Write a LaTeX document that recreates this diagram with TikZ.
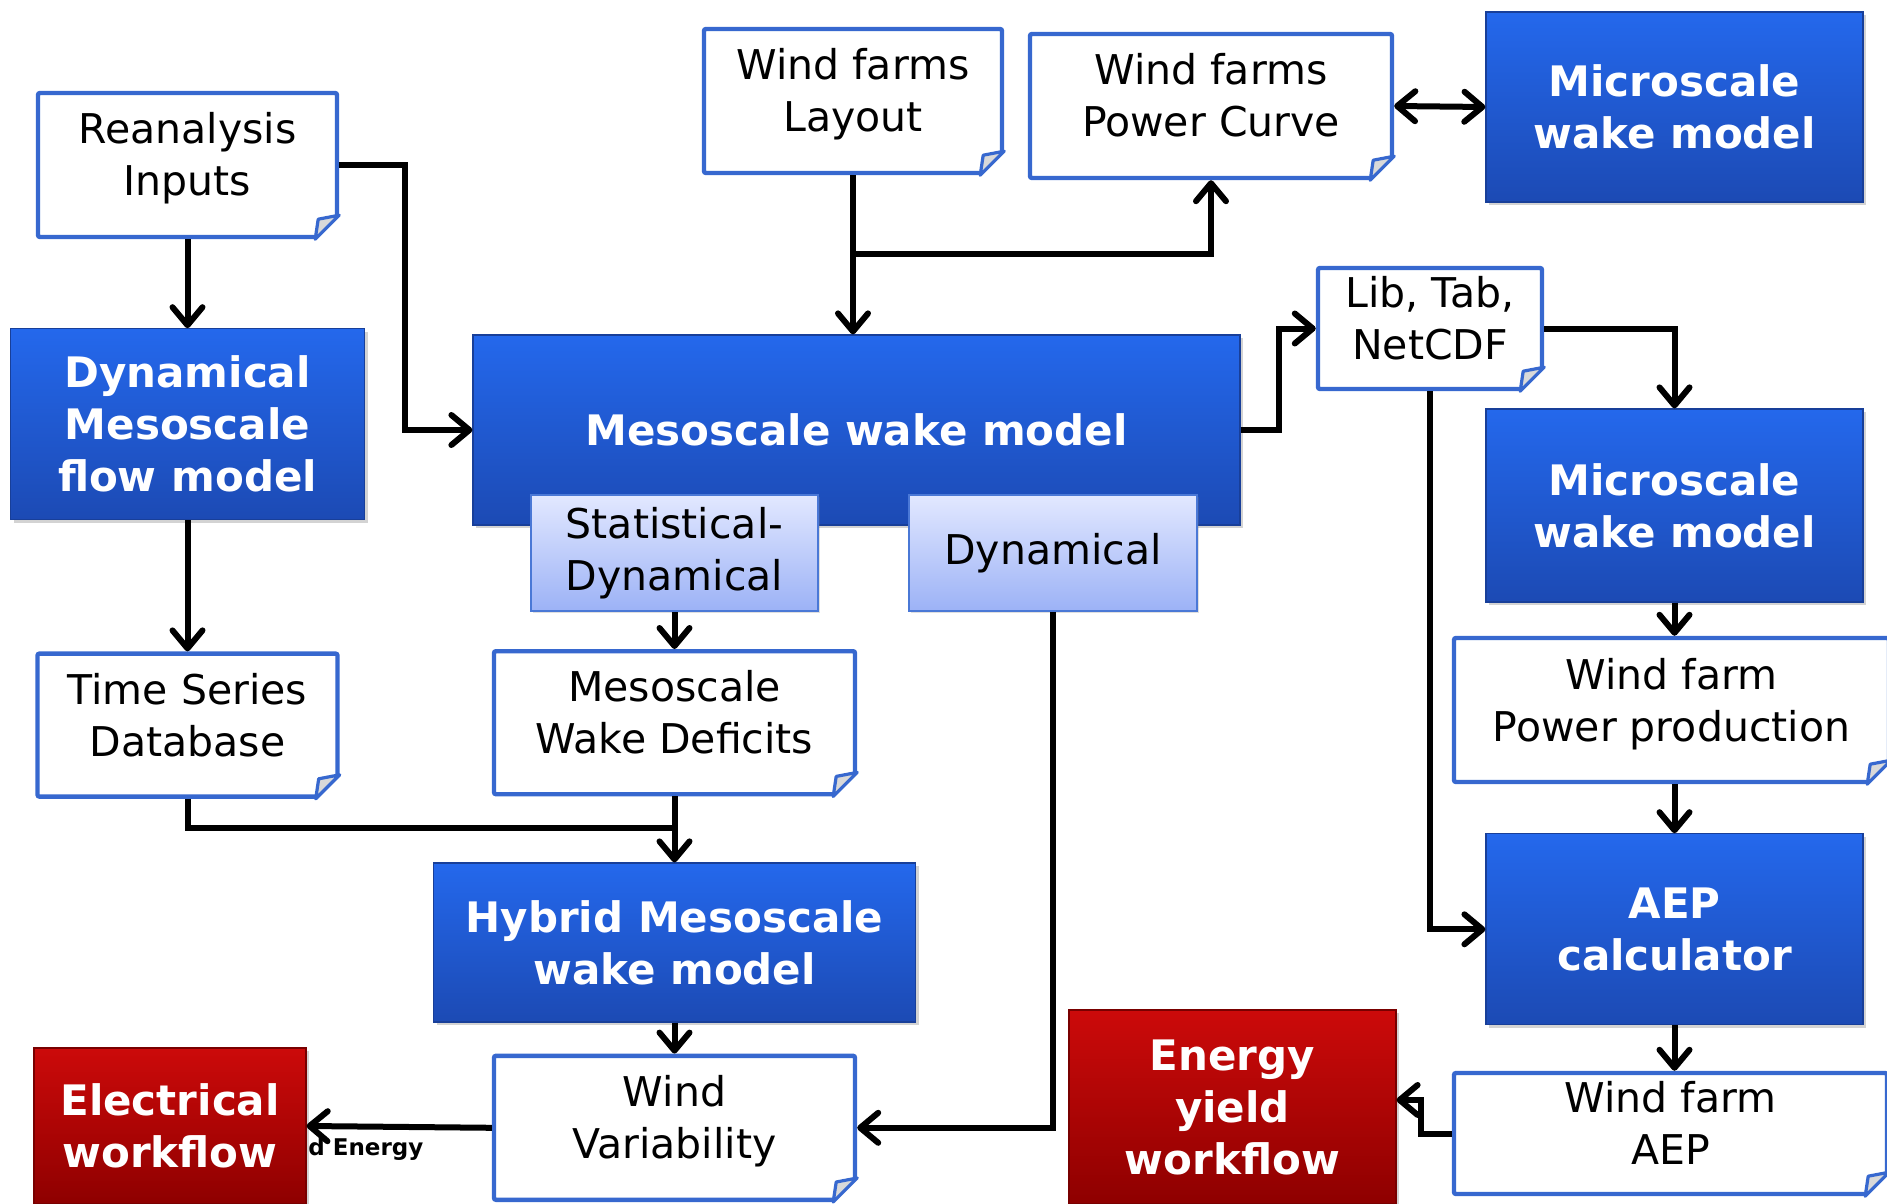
\documentclass[tikz,border=0pt]{standalone}
\usepackage{fontspec}
\setmainfont{DejaVu Sans}
\usetikzlibrary{arrows.meta,positioning,shadows}

\definecolor{docblue}{HTML}{3768CF}
\definecolor{modeltop}{HTML}{2468EC}
\definecolor{modelbot}{HTML}{1C4AB4}
\definecolor{redtop}{HTML}{CC0A0A}
\definecolor{redbot}{HTML}{8E0000}
\definecolor{subtop}{HTML}{E2E8FF}
\definecolor{subbot}{HTML}{9CB2F6}
\definecolor{subedge}{HTML}{4A78D6}

\newcommand{\docfont}{\fontsize{20.5}{26}\selectfont}
\newcommand{\modelfont}{\fontsize{21}{26}\selectfont\bfseries}

\begin{document}
\begin{tikzpicture}
  [
    x=0.5pt, y=-0.5pt,
    >={Straight Barb[length=9pt,width=15pt,round]},
    doc/.style={draw=docblue,line width=2.2pt,fill=white,align=center,font=\docfont,inner sep=0pt,rounded corners=1pt,
      text height=37pt,text depth=6pt},
    model/.style={top color=modeltop,bottom color=modelbot,draw=modelbot!85!black,line width=0.6pt,text=white,font=\modelfont,align=center,inner sep=0pt,
      drop shadow={opacity=0.35,shadow xshift=1.5pt,shadow yshift=-1.5pt}},
    workflow/.style={model,top color=redtop,bottom color=redbot,draw=redbot!85!black},
    variant/.style={top color=subtop,bottom color=subbot,draw=subedge,line width=1pt,font=\docfont,align=center,inner sep=0pt,
      drop shadow={opacity=0.25,shadow xshift=1pt,shadow yshift=-1pt}},
    flow/.style={line width=3pt,->,line join=miter}
  ]
  \useasboundingbox (0,0) rectangle (1887,1204);

  % left column
  \node[doc,minimum width=149.5pt,minimum height=72pt] (reanalysis) at (187.5,165) {Reanalysis\\Inputs};
  \node[model,minimum width=177pt,minimum height=95.5pt] (flowmodel) [below=44.5pt of reanalysis] {Dynamical\\Mesoscale\\flow model};
  \node[doc,minimum width=150pt,minimum height=71.5pt] (timeseries) [below=65.5pt of flowmodel] {Time Series\\Database};

  % top row
  \node[doc,minimum width=149pt,minimum height=72pt] (layout) at (853,101) {Wind farms\\Layout};
  \node[doc,minimum width=181pt,minimum height=72pt] (powercurve) at (1211,106) {Wind farms\\Power Curve};
  \node[model,minimum width=188.5pt,minimum height=95pt] (micro1) at (1674.5,107) {Microscale\\wake model};

  % mesoscale model and its two variants
  \node[model,minimum width=383.5pt,minimum height=95pt,text depth=0pt] (mesowake) at (856.5,430) {Mesoscale wake model};
  \node[variant,minimum width=143.5pt,minimum height=58pt] (statdyn) at (674.5,553) {Statistical-\\Dynamical};
  \node[variant,minimum width=144pt,minimum height=58pt] (dynamical) at (1053,553) {Dynamical};
  \node[doc,minimum width=180.5pt,minimum height=71.5pt] (deficits) [below=18.5pt of statdyn] {Mesoscale\\Wake Deficits};
  \node[model,minimum width=241pt,minimum height=79.5pt] (hybrid) [below=33pt of deficits] {Hybrid Mesoscale\\wake model};
  \node[doc,minimum width=180.5pt,minimum height=72pt] (windvar) [below=15.5pt of hybrid] {Wind\\Variability};

  % workflows
  \node[font=\fontsize{11.5}{13}\selectfont\bfseries,anchor=west,inner sep=0pt] (energytag) at (308,1149) {d Energy};
  \node[workflow,minimum width=136pt,minimum height=78pt] (electrical) at (170,1126) {Electrical\\workflow};
  \node[workflow,minimum width=163.5pt,minimum height=97pt] (energy) at (1232.5,1107) {Energy\\yield\\workflow};

  % right column
  \node[doc,minimum width=112pt,minimum height=60.5pt] (lib) at (1430,328.5) {Lib, Tab,\\NetCDF};
  \node[model,minimum width=188.5pt,minimum height=96.5pt] (micro2) at (1674.5,505.5) {Microscale\\wake model};
  \node[doc,minimum width=217.5pt,minimum height=72pt] (powerprod) at (1671.5,710) {Wind farm\\Power production};
  \node[model,minimum width=188.5pt,minimum height=95.5pt] (aepcalc) [below=24.5pt of powerprod.south -| micro2.south,anchor=north] {AEP\\calculator};
  \node[doc,minimum width=216.5pt,minimum height=60.5pt] (wfaep) at (1670.5,1133.5) {Wind farm\\AEP};

  % folded corners of the data boxes
  \foreach \n in {reanalysis,timeseries,layout,powercurve,deficits,windvar,lib,powerprod,wfaep}{
    \fill[white] ([xshift=-12.5pt]\n.south east) -- ([yshift=12.5pt]\n.south east) -- ([xshift=3pt,yshift=-3pt]\n.south east) -- cycle;
    \filldraw[draw=docblue,fill=black!15,line width=1.6pt,line join=round]
      ([xshift=-12pt]\n.south east) -- ([xshift=-10.5pt,yshift=10pt]\n.south east) -- ([yshift=12pt]\n.south east) -- cycle;
  }

  % connectors
  \draw[flow] (reanalysis) -- (flowmodel);
  \draw[flow] (flowmodel) -- (timeseries);
  \draw[flow] (reanalysis.east) -- ++(66,0) |- (mesowake.west);
  \draw[flow] (layout.south) -- (layout.south |- mesowake.north);
  \coordinate (split) at (layout.south |- 0,254);
  \draw[flow] (split) -| (powercurve.south);
  \draw[flow,<->] (powercurve.east) -- (micro1.west);
  \draw[flow] (mesowake.east) -- ++(38,0) |- (lib.west);
  \draw[flow] (lib.east) -| (micro2.north);
  \draw[flow] (lib.south) |- (aepcalc.west);
  \draw[flow] (micro2.south) -- (micro2.south |- powerprod.north);
  \draw[flow] (aepcalc.north |- powerprod.south) -- (aepcalc.north);
  \draw[flow] (aepcalc.south) -- (aepcalc.south |- wfaep.north);
  \draw[flow] (wfaep.west) -- ++(-31,0) |- ([yshift=3.5pt]energy.east);
  \draw[flow] (statdyn) -- (deficits);
  \coordinate (merge) at (deficits.south |- 0,828);
  \draw[line width=3pt,line join=miter] (timeseries.south) |- (merge);
  \draw[flow] (deficits.south) -- (deficits.south |- hybrid.north);
  \draw[flow] (windvar.north |- hybrid.south) -- (windvar.north);
  \draw[flow] (dynamical.south) |- (windvar.east);
  \draw[flow] (windvar.west) -- (electrical.east);
\end{tikzpicture}
\end{document}
